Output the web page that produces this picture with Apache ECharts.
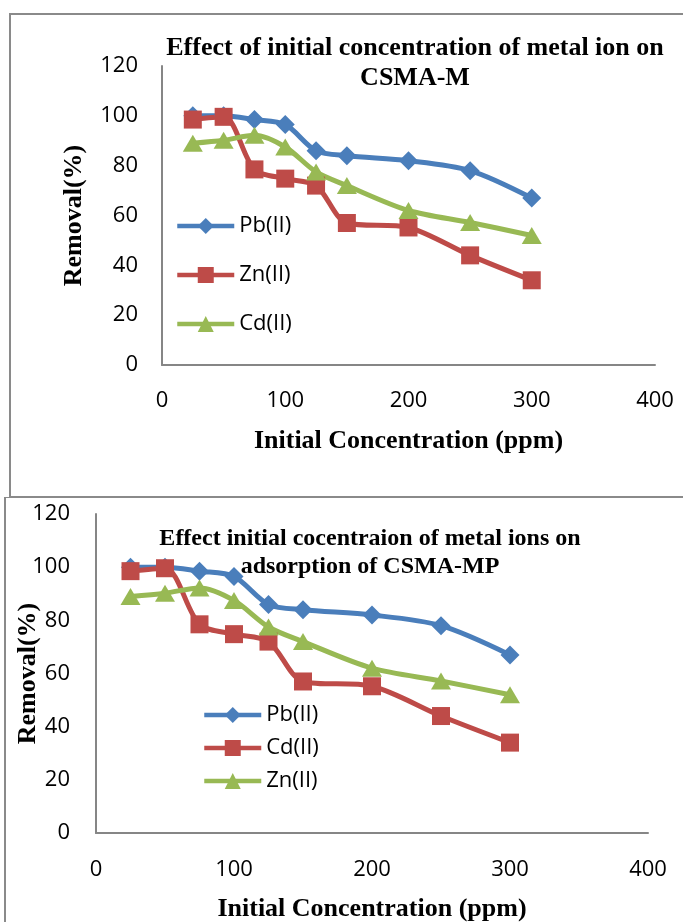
<!DOCTYPE html>
<html>
<head>
<meta charset="utf-8">
<script src="https://cdn.jsdelivr.net/npm/echarts@6/dist/echarts.min.js"></script>
<style>
  html, body { margin: 0; padding: 0; background: #ffffff; width: 683px; height: 922px; overflow: hidden; }
  #chartM  { position: absolute; left: 0; top: 0;     width: 683px; height: 497px; }
  #chartMP { position: absolute; left: 0; top: 497px; width: 683px; height: 425px; }
</style>
</head>
<body>
<div id="chartM"></div>
<div id="chartMP"></div>
<script>
// Initial metal ion concentration (ppm)
const concentration = [25, 50, 75, 100, 125, 150, 200, 250, 300];

// CSMA-M removal (%)
const csmaM_Pb = [100, 100, 98.5, 96.5, 86, 84, 82, 78, 67];
const csmaM_Zn = [98.5, 99.6, 78.5, 74.8, 72, 57, 55.2, 44, 34];
const csmaM_Cd = [89, 90.2, 92.2, 87.5, 77.5, 72, 62, 57.2, 52];

// CSMA-MP removal (%)
const csmaMP_Pb = [100, 100, 98.5, 96.5, 86, 84, 82, 78, 67];
const csmaMP_Cd = [98.5, 99.6, 78.5, 74.8, 72, 57, 55.2, 44, 34];
const csmaMP_Zn = [89, 90.2, 92.2, 87.5, 77.5, 72, 62, 57.2, 52];

// Axis ticks
const xTicks = { min: 0, max: 400, interval: 100 };
const yTicks = { min: 0, max: 120, interval: 20 };

const BLUE = '#4A7EBB', RED = '#BE4B48', GREEN = '#98B954';
const AXIS_GREY = '#868686';
const SERIF = '"Liberation Serif", "Times New Roman", serif';
const SANS = '"Open Sans", "Noto Sans", sans-serif';

function pairs(values) {
  return concentration.map((c, i) => [c, values[i]]);
}

function lineSeries(name, values, color, symbol, size) {
  return {
    name: name,
    type: 'line',
    data: pairs(values),
    smooth: 0.3,
    symbol: symbol,
    symbolSize: size,
    lineStyle: { color: color, width: 5 },
    itemStyle: { color: color },
    emphasis: { disabled: true },
    z: 3
  };
}

function buildOption(cfg) {
  return {
    animation: false,
    backgroundColor: '#ffffff',
    graphic: [
      {
        type: 'rect',
        shape: cfg.frame,
        style: { fill: 'none', stroke: '#8a8a8a', lineWidth: 2 },
        silent: true
      },
      {
        type: 'text',
        x: cfg.titleX,
        y: cfg.titleY,
        style: {
          text: cfg.title,
          fill: '#000',
          font: 'bold ' + cfg.titleSize + 'px ' + SERIF,
          lineHeight: cfg.titleLineHeight,
          textAlign: 'center',
          textVerticalAlign: 'top'
        },
        z: 10
      }
    ],
    grid: Object.assign({ outerBoundsMode: 'none', containLabel: false }, cfg.grid),
    legend: {
      orient: 'vertical',
      left: cfg.legendLeft,
      top: cfg.legendTop,
      itemWidth: 57,
      itemHeight: 20,
      itemGap: cfg.legendGap,
      data: cfg.legendOrder,
      lineStyle: { width: 4.5 },
      textStyle: { fontFamily: SANS, fontSize: 22, color: '#000' }
    },
    xAxis: {
      type: 'value',
      min: xTicks.min,
      max: xTicks.max,
      interval: xTicks.interval,
      name: 'Initial Concentration (ppm)',
      nameLocation: 'middle',
      nameGap: cfg.xNameGap,
      nameMoveOverlap: false,
      nameTextStyle: { fontFamily: SERIF, fontWeight: 'bold', fontSize: 26, color: '#000' },
      axisLine: { show: true, lineStyle: { color: AXIS_GREY, width: 2 } },
      axisTick: { show: false },
      splitLine: { show: false },
      axisLabel: { fontFamily: SANS, fontSize: 22, color: '#000', margin: cfg.xLabelMargin }
    },
    yAxis: {
      type: 'value',
      min: yTicks.min,
      max: yTicks.max,
      interval: yTicks.interval,
      name: 'Removal(%)',
      nameLocation: 'middle',
      nameGap: cfg.yNameGap,
      nameRotate: 90,
      nameMoveOverlap: false,
      nameTextStyle: { fontFamily: SERIF, fontWeight: 'bold', fontSize: 26, color: '#000' },
      axisLine: { show: true, lineStyle: { color: AXIS_GREY, width: 2 } },
      axisTick: { show: false },
      splitLine: { show: false },
      axisLabel: { fontFamily: SANS, fontSize: 22, color: '#000', margin: cfg.yLabelMargin }
    },
    series: cfg.series
  };
}

const chartM = echarts.init(document.getElementById('chartM'), null, { renderer: 'canvas' });
chartM.setOption(buildOption({
  frame: { x: 10, y: 14, width: 720, height: 483 },
  title: 'Effect of initial concentration of metal ion on\nCSMA-M',
  titleX: 415, titleY: 33, titleSize: 26, titleLineHeight: 30,
  grid: { left: 162, top: 66, width: 493, height: 299 },
  legendLeft: 170, legendTop: 210, legendGap: 27,
  legendOrder: ['Pb(II)', 'Zn(II)', 'Cd(II)'],
  xNameGap: 63, xLabelMargin: 25,
  yNameGap: 75, yLabelMargin: 24,
  series: [
    lineSeries('Pb(II)', csmaM_Pb, BLUE, 'diamond', 19),
    lineSeries('Zn(II)', csmaM_Zn, RED, 'rect', 18),
    lineSeries('Cd(II)', csmaM_Cd, GREEN, 'triangle', [20, 17])
  ]
}));

const chartMP = echarts.init(document.getElementById('chartMP'), null, { renderer: 'canvas' });
chartMP.setOption(buildOption({
  frame: { x: 5, y: 0, width: 720, height: 460 },
  title: 'Effect initial cocentraion of metal ions on\nadsorption of CSMA-MP',
  titleX: 370, titleY: 28, titleSize: 24, titleLineHeight: 28,
  grid: { left: 96, top: 17, width: 552, height: 319 },
  legendLeft: 197, legendTop: 202, legendGap: 11,
  legendOrder: ['Pb(II)', 'Cd(II)', 'Zn(II)'],
  xNameGap: 63, xLabelMargin: 26,
  yNameGap: 55, yLabelMargin: 26,
  series: [
    lineSeries('Pb(II)', csmaMP_Pb, BLUE, 'diamond', 19),
    lineSeries('Cd(II)', csmaMP_Cd, RED, 'rect', 18),
    lineSeries('Zn(II)', csmaMP_Zn, GREEN, 'triangle', [20, 17])
  ]
}));
</script>
</body>
</html>
